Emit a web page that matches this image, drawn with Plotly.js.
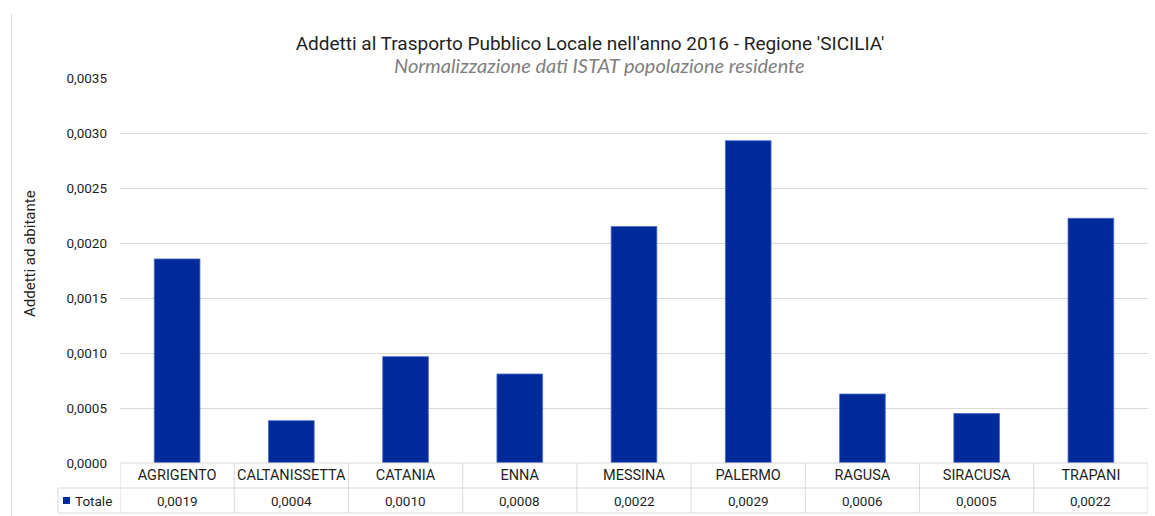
<!DOCTYPE html>
<html>
<head>
<meta charset="utf-8">
<script src="https://cdn.plot.ly/plotly-3.0.1.min.js"></script>
<style>
html,body{margin:0;padding:0;background:#fff;}
#chart{width:1155px;height:516px;}
</style>
</head>
<body>
<div id="chart"></div>
<script>
// ---- data ----
const chartTitle = "Addetti al Trasporto Pubblico Locale nell'anno 2016 - Regione 'SICILIA'";
const chartSubtitle = "Normalizzazione dati ISTAT popolazione residente";
const yAxisTitle = "Addetti ad abitante";
const seriesName = "Totale";
const categories = ["AGRIGENTO","CALTANISSETTA","CATANIA","ENNA","MESSINA","PALERMO","RAGUSA","SIRACUSA","TRAPANI"];
const values = [0.001855, 0.000385, 0.000967, 0.000809, 0.00215, 0.00293, 0.000627, 0.00045, 0.002224];
const tableLabels = ["0,0019","0,0004","0,0010","0,0008","0,0022","0,0029","0,0006","0,0005","0,0022"];

// ---- style ----
const condensed = "'Liberation Sans Narrow', 'Roboto', sans-serif";
const textColor = "#1f1f1f";
const gridColor = "#d9d9d9";
const barColor = "#00299a";

// pixel helpers (plot area: left 120, right 1148, top 78, bottom 463)
const PL = 120, PR = 1148, PT = 78, PB = 463;
const px = x => (x - PL) / (PR - PL);
const py = y => (PB - y) / (PB - PT);

const trace = {
  type: 'bar',
  x: categories,
  y: values,
  name: seriesName,
  marker: {color: barColor, line: {color: '#4a6bd0', width: 0.8}},
  hoverinfo: 'x+y'
};

const shapes = [];
const lineStyle = {color: gridColor, width: 1};
// table horizontal lines
shapes.push({type:'line', xref:'paper', yref:'paper', x0:0, x1:1, y0:0, y1:0, line:lineStyle});
shapes.push({type:'line', xref:'paper', yref:'paper', x0:px(58), x1:1, y0:py(488), y1:py(488), line:lineStyle});
shapes.push({type:'line', xref:'paper', yref:'paper', x0:px(58), x1:1, y0:py(513), y1:py(513), line:lineStyle});
// table vertical lines
for (let i = 0; i <= categories.length; i++) {
  shapes.push({type:'line', xref:'x', yref:'paper', x0:i-0.5, x1:i-0.5, y0:py(513), y1:0, line:lineStyle});
}
shapes.push({type:'line', xref:'paper', yref:'paper', x0:px(58), x1:px(58), y0:py(513), y1:py(488), line:lineStyle});
// legend key
shapes.push({type:'rect', xref:'paper', yref:'paper', x0:px(63), x1:px(70), y0:py(504), y1:py(497), fillcolor:barColor, line:{width:0}});
// chart outer left border
shapes.push({type:'line', xref:'paper', yref:'paper', x0:px(11.5), x1:px(11.5), y0:py(516), y1:py(14), line:lineStyle});

const annotations = [];
annotations.push({xref:'paper', yref:'paper', x:px(599), y:py(65), xanchor:'center', yanchor:'middle',
  text:chartSubtitle, showarrow:false, font:{family:"Lato, 'Open Sans', sans-serif", size:20, color:'#7f7f7f', style:'italic'}});
annotations.push({xref:'paper', yref:'paper', x:px(30), y:py(254), xanchor:'center', yanchor:'middle', textangle:-90,
  text:yAxisTitle, showarrow:false, font:{family:condensed, size:15, color:textColor}});
categories.forEach((c, i) => {
  annotations.push({xref:'x', yref:'paper', x:c, y:py(500.5), xanchor:'center', yanchor:'middle',
    text:tableLabels[i], showarrow:false, font:{family:condensed, size:13.5, color:textColor}});
});
annotations.push({xref:'paper', yref:'paper', x:px(73), y:py(500.5), xanchor:'left', yanchor:'middle',
  text:seriesName, showarrow:false, font:{family:condensed, size:13.5, color:textColor}});

const layout = {
  width: 1155, height: 516,
  margin: {l: PL, r: 1155 - PR, t: PT, b: 516 - PB},
  paper_bgcolor: '#fff', plot_bgcolor: '#fff',
  separators: ',.',
  showlegend: false,
  bargap: 0.6,
  title: {text: chartTitle, xref:'container', yref:'container', x: 590/1155, y: 1 - 43/516,
    xanchor:'center', yanchor:'middle', font:{family:condensed, size:19, color:textColor}},
  xaxis: {type:'category', range:[-0.5, categories.length - 0.5], showgrid:false, showline:false, zeroline:false,
    ticks:'', tickfont:{family:condensed, size:14.5, color:textColor}, ticklabelstandoff: 1, fixedrange:true},
  yaxis: {range:[0, 0.0035], dtick:0.0005, tick0:0, tickformat:'.4f', showgrid:true, gridcolor:gridColor, gridwidth:1,
    zeroline:false, showline:false, ticks:'', ticklabelstandoff: 12,
    tickfont:{family:condensed, size:13.5, color:textColor}, fixedrange:true},
  shapes: shapes,
  annotations: annotations
};

Plotly.newPlot('chart', [trace], layout, {displayModeBar:false, staticPlot:true});
</script>
</body>
</html>
